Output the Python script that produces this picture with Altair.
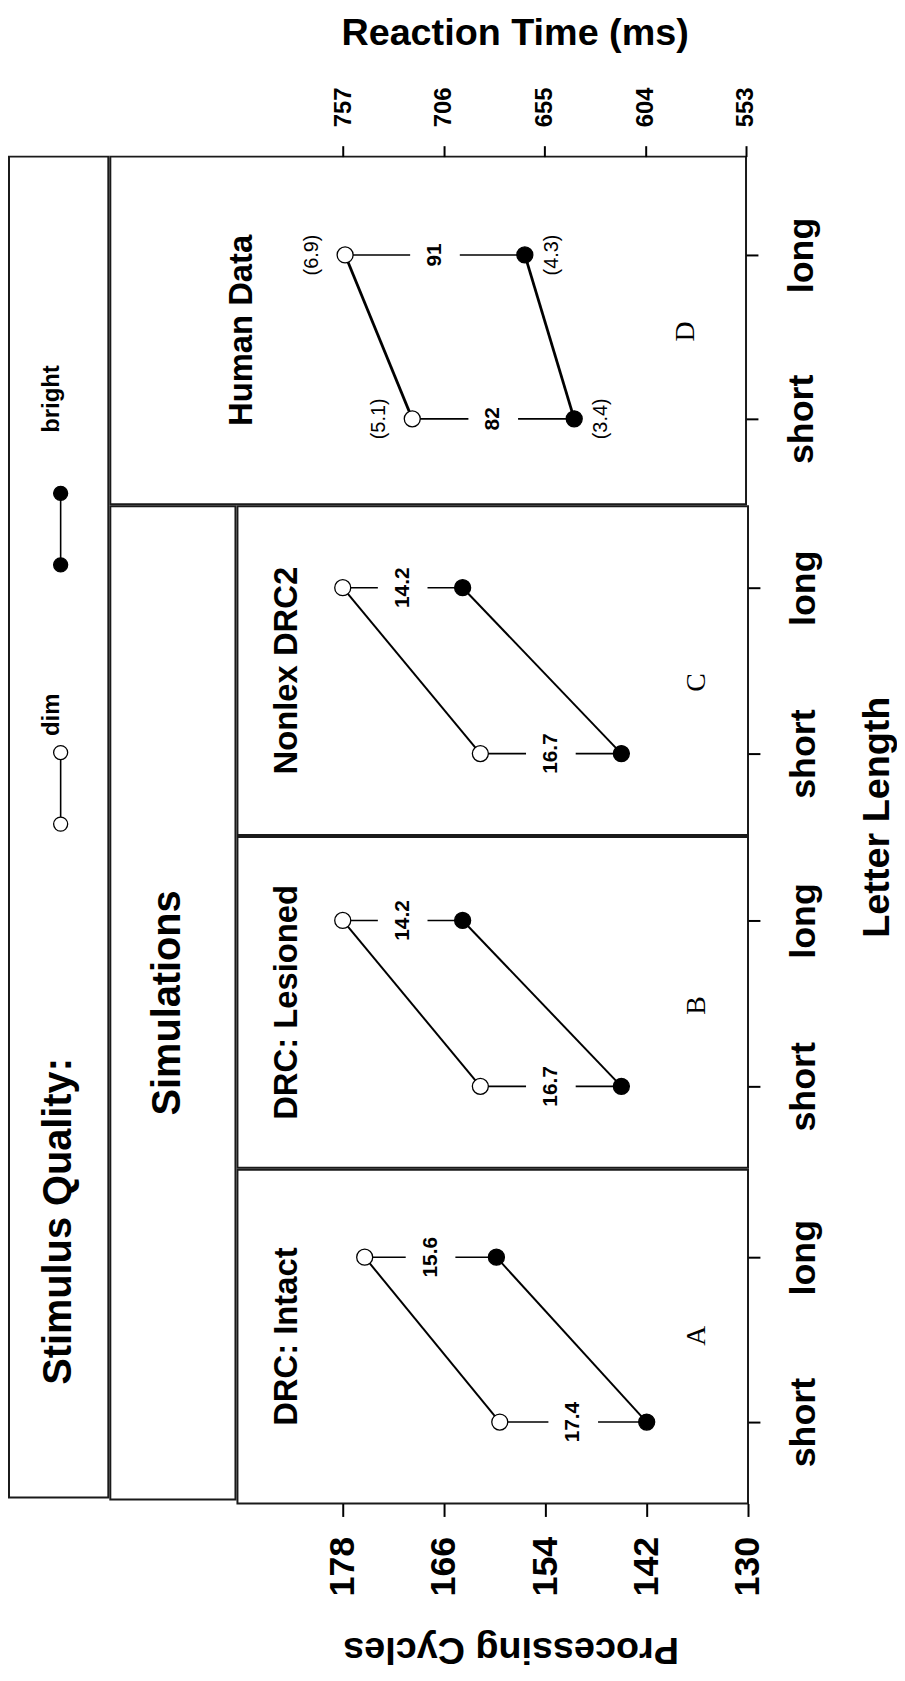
import altair as alt
import pandas as pd

# ---------------- data ----------------
lengths = ["short", "long"]
qualities = ["dim", "bright"]

panel_names = {"A": "DRC: Intact", "B": "DRC: Lesioned", "C": "Nonlex DRC2", "D": "Human Data"}

dim_A = [159.4, 175.4]
bright_A = [142.0, 159.8]
effect_A = ["17.4", "15.6"]

dim_B = [161.7, 178.0]
bright_B = [145.0, 163.8]
effect_B = ["16.7", "14.2"]

dim_C = [161.7, 178.0]
bright_C = [145.0, 163.8]
effect_C = ["16.7", "14.2"]

dim_D = [722, 756]
bright_D = [640, 665]
effect_D = ["82", "91"]
se_dim_D = ["(5.1)", "(6.9)"]
se_bright_D = ["(3.4)", "(4.3)"]

cycle_ticks = [130, 142, 154, 166, 178]
rt_ticks = [553, 604, 655, 706, 757]

# ---------------- helpers ----------------
FONT = "Liberation Sans"
SERIF = "Liberation Serif"
GAP = "M-1,-0.3L1,-0.3L1,0.3L-1,0.3Z"
fill_scale = alt.Scale(domain=qualities, range=["white", "black"])


def long_table(dim, bright):
    rows = []
    for i, L in enumerate(lengths):
        rows.append({"length": L, "quality": "dim", "value": dim[i]})
        rows.append({"length": L, "quality": "bright", "value": bright[i]})
    return pd.DataFrame(rows)


def wide_table(dim, bright, eff):
    return pd.DataFrame({"length": lengths, "dim": dim, "bright": bright, "effect": eff})


def y_axis():
    return alt.Axis(orient="right", title=None, labelAngle=270, labelAlign="center",
                    labelBaseline="top", labelFontSize=36, labelPadding=27, tickSize=12,
                    tickWidth=2, domain=False, grid=False, labelOverlap=False)


def make_panel(key, dim, bright, eff, width, height, yrange, xdomain, xaxis,
               line_w, title_x, letter_x, letter_dy, se=None):
    xs = alt.Scale(domain=xdomain, reverse=True, nice=False, zero=False)
    ys = alt.Scale(type="point", domain=["long", "short"], range=yrange, padding=0)

    def X(f):
        if xaxis is None:
            return alt.X(f, type="quantitative", scale=xs, axis=None)
        return alt.X(f, type="quantitative", scale=xs, axis=xaxis)

    Y = alt.Y("length:N", scale=ys, axis=y_axis())
    pts = long_table(dim, bright)
    wide = wide_table(dim, bright, eff)

    lines = alt.Chart(pts).mark_line(color="black", strokeWidth=line_w).encode(
        x=X("value"), y=Y, detail="quality:N")
    rules = alt.Chart(wide).mark_rule(color="black", strokeWidth=1.6).encode(
        x=X("dim"), x2="bright:Q", y=Y)
    mid = alt.Chart(wide).transform_calculate(mid="(datum.dim + datum.bright) / 2")
    gaps = mid.mark_point(shape=GAP, filled=True, fill="white", strokeWidth=0,
                          size=2500, opacity=1).encode(x=X("mid"), y=Y)
    labels = mid.mark_text(angle=270, font=FONT, fontSize=21, fontWeight="bold",
                           color="black", baseline="middle", align="center").encode(
        x=X("mid"), y=Y, text="effect:N")
    dots = alt.Chart(pts).mark_point(shape="circle", filled=True, size=260, stroke="black",
                                     strokeWidth=1.3, opacity=1).encode(
        x=X("value"), y=Y,
        fill=alt.Fill("quality:N", scale=fill_scale, legend=None))
    title = alt.Chart(pd.DataFrame({"t": [panel_names[key]]})).mark_text(
        angle=270, font=FONT, fontSize=33, fontWeight="bold", color="black",
        baseline="middle", align="center").encode(
        x=alt.value(title_x), y=alt.value(height / 2), text="t:N")
    letter = alt.Chart(pd.DataFrame({"t": [key]})).mark_text(
        angle=270, font=SERIF, fontSize=28, color="black",
        baseline="middle", align="center").encode(
        x=alt.value(letter_x), y=alt.value(height / 2 + letter_dy), text="t:N")

    layers = [lines, rules, gaps, labels, dots, title, letter]
    if se is not None:
        se_dim, se_bright = se
        sd = pd.DataFrame({"length": lengths, "value": dim, "se": se_dim})
        sb = pd.DataFrame({"length": lengths, "value": bright, "se": se_bright})
        layers.append(alt.Chart(sd).mark_text(angle=270, font=FONT, fontSize=20, color="black",
                                              baseline="middle", align="center", dy=-33).encode(
            x=X("value"), y=Y, text="se:N"))
        layers.append(alt.Chart(sb).mark_text(angle=270, font=FONT, fontSize=20, color="black",
                                              baseline="middle", align="center", dy=27).encode(
            x=X("value"), y=Y, text="se:N"))
    return alt.layer(*layers).properties(width=width, height=height)


# ---------------- axes ----------------
rt_axis = alt.Axis(orient="top", values=rt_ticks, labelAngle=270, labelAlign="left",
                   labelBaseline="middle", labelFontSize=24, labelPadding=19, tickSize=11,
                   tickWidth=2, domain=False, grid=False, labelFlush=False, labelOverlap=False,
                   title="Reaction Time (ms)", titleFontSize=38, titleAngle=0,
                   titleAlign="center", titleBaseline="alphabetic", titleX=407, titleY=-113)

pc_axis = alt.Axis(orient="bottom", values=cycle_ticks, labelAngle=270, labelAlign="right",
                   labelBaseline="middle", labelFontSize=36, labelPadding=20, tickSize=13,
                   tickWidth=2, domain=False, grid=False, labelFlush=False, labelOverlap=False,
                   title="Processing Cycles", titleFontSize=38, titleAngle=180,
                   titleAlign="center", titleBaseline="alphabetic", titleX=275, titleY=135)

sim_domain = [130, 190.47]
rt_domain = [553, 874.9]

panel_D = make_panel("D", dim_D, bright_D, effect_D, 640, 350, [99, 264], rt_domain, rt_axis,
                     2.8, 133, 580, 1, se=(se_dim_D, se_bright_D))
panel_C = make_panel("C", dim_C, bright_C, effect_C, 514, 331, [82, 249], sim_domain, None,
                     2.0, 50, 463, 12)
panel_B = make_panel("B", dim_B, bright_B, effect_B, 514, 333, [84, 251], sim_domain, None,
                     2.0, 50, 463, 3)
panel_A = make_panel("A", dim_A, bright_A, effect_A, 514, 336, [88, 254], sim_domain, pc_axis,
                     2.0, 50, 463, -1)

# ---------------- "Simulations" column ----------------
sim_col = alt.Chart(pd.DataFrame({"t": ["Simulations"]})).mark_text(
    angle=270, font=FONT, fontSize=40, fontWeight="bold", color="black",
    baseline="middle", align="center").encode(
    x=alt.value(58), y=alt.value(500), text="t:N").properties(width=126, height=1000)

# ---------------- legend column ----------------
def legend_glyph(q, y_text, y1, y2):
    src = alt.Chart(pd.DataFrame({"quality": [q]}))
    rule = src.mark_rule(color="black", strokeWidth=1.6).encode(
        x=alt.value(52), y=alt.value(y1), y2=alt.value(y2))
    c1 = src.mark_point(shape="circle", filled=True, size=200, stroke="black",
                        strokeWidth=1.3, opacity=1).encode(
        x=alt.value(52), y=alt.value(y1),
        fill=alt.Fill("quality:N", scale=fill_scale, legend=None))
    c2 = src.mark_point(shape="circle", filled=True, size=200, stroke="black",
                        strokeWidth=1.3, opacity=1).encode(
        x=alt.value(52), y=alt.value(y2),
        fill=alt.Fill("quality:N", scale=fill_scale, legend=None))
    txt = src.mark_text(angle=270, font=FONT, fontSize=24, fontWeight="bold",
                        color="black", baseline="alphabetic", align="center").encode(
        x=alt.value(50), y=alt.value(y_text), text="quality:N")
    return [rule, c1, c2, txt]


sq = alt.Chart(pd.DataFrame({"t": ["Stimulus Quality:"]})).mark_text(
    angle=270, font=FONT, fontSize=40, fontWeight="bold", color="black",
    baseline="middle", align="center").encode(
    x=alt.value(50), y=alt.value(1072), text="t:N")

legend_col = alt.layer(
    *legend_glyph("bright", 244, 339, 411),
    *legend_glyph("dim", 562, 600, 672),
    sq,
).properties(width=100, height=1350)

# ---------------- "Letter Length" column ----------------
ll_col = alt.Chart(pd.DataFrame({"t": ["Letter Length"]})).mark_text(
    angle=270, font=FONT, fontSize=38, fontWeight="bold", color="black",
    baseline="alphabetic", align="center").encode(
    x=alt.value(67), y=alt.value(665), text="t:N").properties(
    width=70, height=1350, view=alt.ViewBackground(stroke=None))

# ---------------- assemble ----------------
sims = alt.vconcat(panel_C, panel_B, panel_A, spacing=0)
lower = alt.hconcat(sim_col, sims, spacing=0)
right = alt.vconcat(panel_D, lower, spacing=0)

chart = alt.hconcat(legend_col, right, ll_col, spacing=0).properties(
    padding={"left": 0, "top": 0, "right": 0, "bottom": 0}
).configure_view(
    stroke="#1a1a1a", strokeWidth=2
).configure_concat(
    spacing=0
).configure_axis(
    labelFont=FONT, labelFontWeight="bold", labelColor="black",
    titleFont=FONT, titleFontWeight="bold", titleColor="black",
    tickColor="black"
)

chart.save("out.html", embed_options={"renderer": "svg", "actions": False})
